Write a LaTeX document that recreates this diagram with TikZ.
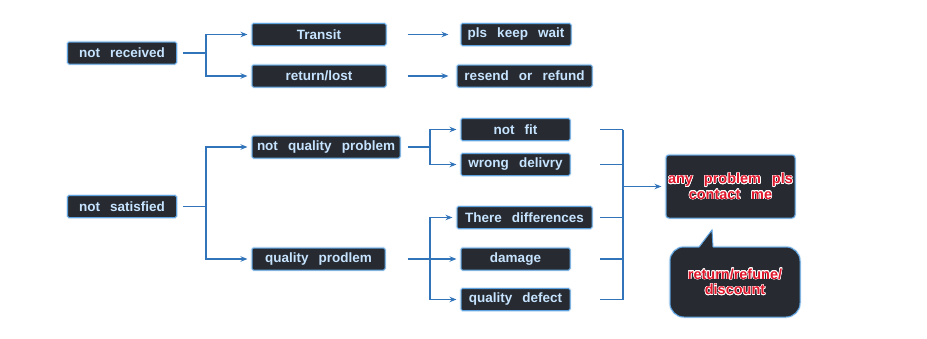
\documentclass[tikz,border=0pt]{standalone}
\usepackage{fontspec}
\setmainfont[WordSpace=2.7]{Liberation Sans}
\usepackage[copies]{contour}
\usetikzlibrary{arrows.meta}

\definecolor{boxfill}{HTML}{272B31}
\definecolor{boxline}{HTML}{5FA3E0}
\definecolor{boxtext}{HTML}{C6E3FF}
\definecolor{connblue}{HTML}{3274BA}
\definecolor{alertred}{HTML}{E0162B}
\contourlength{0.55pt}

\tikzset{
  tag/.style={draw=boxline, fill=boxfill, line width=1pt, rounded corners=1.5pt,
    text=boxtext, font=\fontsize{13.5}{15}\selectfont\bfseries, inner sep=0pt,
    minimum height=22pt, preaction={draw=boxline!60, line width=2.6pt, opacity=0.35}},
  note/.style={tag, text=alertred, font=\fontsize{14.5}{15.5}\selectfont\bfseries,
    align=center, rounded corners=3pt},
  conn/.style={draw=connblue, line width=1.1pt},
  arr/.style={conn, -{Stealth[length=7pt,width=5.5pt]}, shorten >=4pt}
}

\begin{document}
\begin{tikzpicture}[x=1pt,y=-1pt]
  \useasboundingbox (0,0) rectangle (927,338);

  % not received branch
  \node[tag, minimum width=109pt] (nrecv) at (122,53) {not received};
  \node[tag, minimum width=134pt] (transit) at (319,34.5) {Transit};
  \node[tag, minimum width=134pt] (lost) at (319,76) {return/lost};
  \node[tag, minimum width=110pt] (wait) at (516,34.5) {pls keep wait};
  \node[tag, minimum width=135pt] (resend) at (524.5,76) {resend or refund};

  % not satisfied branch
  \node[tag, minimum width=109pt] (nsat) at (122,206.5) {not satisfied};
  \node[tag, minimum width=148pt] (nqual) at (326,147) {not quality problem};
  \node[tag, minimum width=133pt] (qual) at (318.5,259) {quality prodlem};
  \node[tag, minimum width=109pt] (nfit) at (515.5,129.5) {not fit};
  \node[tag, minimum width=109pt] (wrong) at (515.5,164.5) {wrong delivry};
  \node[tag, minimum width=135pt] (diff) at (524.5,217.5) {There differences};
  \node[tag, minimum width=109pt] (damage) at (515.5,259) {damage};
  \node[tag, minimum width=109pt] (defect) at (515.5,299.5) {quality defect};

  % contact boxes
  \node[note, minimum width=129pt, minimum height=63pt] (contact) at (730.5,186.5)
    {\contour{white}{any problem pls}\\\contour{white}{contact me}};
  \node[note, minimum width=130pt, minimum height=70pt, rounded corners=14pt] (bubble) at (735,282)
    {\contour{white}{return/refune/}\\\contour{white}{discount}};
  \coordinate (tip) at (712,230);
  \fill[boxfill] ([xshift=-36pt,yshift=-1.5pt]bubble.north) -- (tip) -- ([xshift=-22pt,yshift=-1.5pt]bubble.north) -- cycle;
  \draw[boxline, line width=1pt, line join=miter] ([xshift=-36pt,yshift=-0.5pt]bubble.north) -- (tip) -- ([xshift=-22pt,yshift=-0.5pt]bubble.north);

  % junctions
  \coordinate (lj) at (206,0);
  \coordinate (mj) at (430,0);
  \coordinate (rb) at (600,0);
  \coordinate (rj) at (623,0);

  % connectors
  \draw[conn] ([xshift=6pt]nrecv.east) -- (nrecv -| lj);
  \draw[arr] (nrecv -| lj) |- (transit);
  \draw[arr] (nrecv -| lj) |- (lost);
  \draw[arr, shorten >=12pt] ([xshift=21pt]transit.east) -- (wait);
  \draw[arr, shorten >=8pt] ([xshift=21pt]lost.east) -- (resend);

  \draw[conn] ([xshift=6pt]nsat.east) -- (nsat -| lj);
  \draw[arr] (nsat -| lj) |- (nqual);
  \draw[arr] (nsat -| lj) |- (qual);

  \draw[conn] ([xshift=7pt]nqual.east) -- (nqual -| mj);
  \draw[arr] (nqual -| mj) |- (nfit);
  \draw[arr] (nqual -| mj) |- (wrong);

  \draw[arr] ([xshift=22pt]qual.east) -- (damage);
  \draw[arr] (qual -| mj) |- (diff);
  \draw[arr] (qual -| mj) |- (defect);

  \foreach \n in {nfit,wrong,diff,damage,defect}
    \draw[conn] (\n -| rb) -- (\n -| rj);
  \draw[conn] (nfit -| rj) -- (defect -| rj);
  \draw[arr] (rj |- contact) -- (contact);
\end{tikzpicture}
\end{document}
